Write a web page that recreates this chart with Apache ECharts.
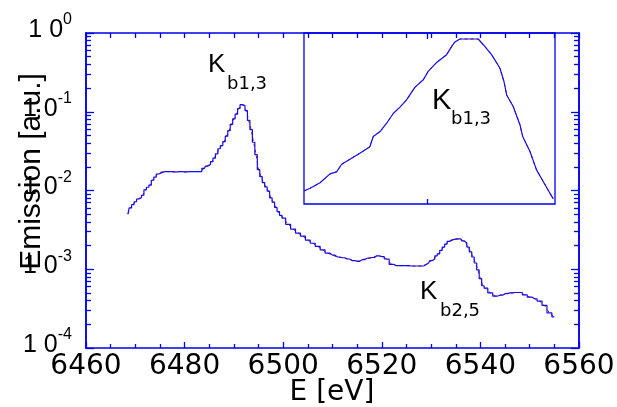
<!DOCTYPE html>
<html><head><meta charset="utf-8">
<script src="https://cdn.jsdelivr.net/npm/echarts@6/dist/echarts.min.js"></script>
<style>html,body{margin:0;padding:0;background:#fff}#c{width:617px;height:407px}</style>
</head><body><div id="c"></div>
<script>
// ---- data ----
const energy = [6468.5,6469,6469.5,6470,6470.5,6471,6471.5,6472,6472.5,6473,6473.5,6474,6474.5,6475,6476,6477,6478,6479,6480,6481,6482,6483,6484,6484.5,6485,6485.5,6486,6486.5,6487,6487.5,6488,6488.5,6489,6489.5,6490,6490.5,6491,6491.5,6492,6492.5,6493,6493.5,6494,6494.5,6495,6495.5,6496,6496.5,6497,6497.5,6498,6498.5,6499,6499.5,6500,6501,6502,6503,6504,6505,6506,6507,6508,6509,6510,6511,6512,6513,6514,6515,6516,6517,6518,6519,6520,6521,6522,6523,6524,6525,6526,6527,6528,6529,6529.5,6530,6530.5,6531,6531.5,6532,6532.5,6533,6533.5,6534,6534.5,6535,6536,6536.5,6537,6537.5,6538,6538.5,6539,6539.5,6540,6540.5,6541,6542,6543,6544,6545,6546,6547,6548,6549,6550,6551,6552,6553,6554,6555];
const emission = [0.0050,0.0060,0.0066,0.0072,0.0078,0.0081,0.0087,0.0102,0.0110,0.0117,0.0135,0.0148,0.0162,0.0170,0.0174,0.0174,0.0172,0.0174,0.0172,0.0174,0.0174,0.0174,0.0191,0.0204,0.0214,0.0232,0.0257,0.0292,0.0339,0.0372,0.0417,0.049,0.0575,0.0692,0.0813,0.0933,0.110,0.123,0.120,0.1035,0.0776,0.0592,0.041,0.0285,0.0184,0.0150,0.0126,0.0111,0.0098,0.00804,0.0071,0.0061,0.0054,0.00484,0.00447,0.00372,0.00324,0.00288,0.00263,0.00234,0.00214,0.00195,0.00176,0.00160,0.00151,0.00143,0.00140,0.00135,0.00129,0.00126,0.00132,0.00138,0.00141,0.00148,0.00145,0.00135,0.00115,0.00111,0.00111,0.00111,0.00110,0.00110,0.00110,0.00115,0.00120,0.00129,0.00135,0.00148,0.00157,0.00174,0.00191,0.00209,0.00226,0.00234,0.00240,0.00243,0.00243,0.00229,0.00216,0.00191,0.00166,0.00143,0.00120,0.00098,0.00076,0.000617,0.000575,0.000501,0.000457,0.000468,0.000490,0.000501,0.000507,0.000507,0.000473,0.000442,0.000422,0.000394,0.000347,0.000279,0.000248];
const insetEnergy = [6484.94,6485.19,6485.60,6486.01,6486.28,6486.49,6486.83,6487.24,6487.65,6487.79,6488.07,6488.34,6488.62,6488.89,6489.16,6489.51,6489.85,6490.05,6490.40,6490.81,6491.02,6491.15,6491.36,6492.11,6492.32,6492.66,6493.00,6493.17,6493.28,6493.55,6493.83,6493.94,6494.24,6494.51,6494.79,6495.06,6495.20];
const insetEmission = [0.0209,0.0216,0.0230,0.0255,0.0261,0.0285,0.0302,0.0324,0.0349,0.0393,0.0416,0.0458,0.0514,0.0552,0.0600,0.0695,0.0757,0.0834,0.0925,0.1012,0.1114,0.1172,0.1213,0.1213,0.1135,0.1012,0.0867,0.0742,0.0635,0.0556,0.0449,0.0393,0.0330,0.0267,0.0233,0.0204,0.0191];
const xTickLabels = [6460,6480,6500,6520,6540,6560];
const yTickExponents = [-4,-3,-2,-1,0];
const insetTick = [6490];
const annotations = [
  {k:'K', sub:'b1,3', kx:208, ky:65, sx:227, sy:84, kSize:26},
  {k:'K', sub:'b1,3', kx:432, ky:101, sx:451, sy:119, kSize:29},
  {k:'K', sub:'b2,5', kx:420, ky:292, sx:440, sy:311, kSize:26}
];

const BLUE = '#0000ee';
const yMajor = yTickExponents.map(e => Math.pow(10, e));
const yMinor = [];
for (let e = -4; e < 0; e++) for (let m = 2; m <= 9; m++) yMinor.push(m * Math.pow(10, e));

const pairs = (xs, ys) => xs.map((x, i) => [x, ys[i]]);
const mainData = pairs(energy, emission);
const insetData = pairs(insetEnergy, insetEmission);

const chart = echarts.init(document.getElementById('c'), null, {renderer: 'canvas'});

const logAxis = (pos, ticks, len, labels) => ({
  type: 'log', gridIndex: 0, min: 1e-4, max: 1, position: pos, z: 10,
  axisLine: {show: true, onZero: false, lineStyle: {color: BLUE, width: 1.5}},
  axisTick: {show: true, inside: true, length: len, customValues: ticks, lineStyle: {color: BLUE, width: 1.3}},
  axisLabel: labels ? {
    show: true, customValues: yMajor, margin: 14, color: '#000',
    formatter: v => '{b|1 0}{s|' + Math.round(Math.log10(v)) + '}',
    rich: {
      b: {fontFamily: 'Liberation Sans', fontSize: 25, color: '#000', padding: [0, 0, 6, 0]},
      s: {fontFamily: 'Liberation Sans', fontSize: 16, color: '#000', padding: [0, 0, 26, 0]}
    }
  } : {show: false},
  splitLine: {show: false}, minorTick: {show: false}
});

const xMain = (pos, labels, len, mlen) => ({
  type: 'value', gridIndex: 0, min: 6460, max: 6560, interval: 20, position: pos, z: 10,
  axisLine: {show: true, onZero: false, lineStyle: {color: BLUE, width: 1.5}},
  axisTick: {show: true, inside: true, length: len, lineStyle: {color: BLUE, width: 1.3}},
  minorTick: {show: true, splitNumber: 4, length: mlen, lineStyle: {color: BLUE, width: 1.3}},
  axisLabel: labels ? {show: true, margin: 5, color: '#000', fontFamily: 'DejaVu Sans', fontSize: 28,
    customValues: xTickLabels, formatter: v => String(v)} : {show: false},
  splitLine: {show: false}, minorSplitLine: {show: false}
});

const graphics = [{
  type: 'text', x: 32, y: 171.5, rotation: Math.PI / 2,
  style: {text: 'Emission [a.u.]', fontFamily: 'Liberation Sans', fontSize: 30, fill: '#000', align: 'center', verticalAlign: 'middle'}
}, {
  type: 'text', x: 332, y: 393,
  style: {text: 'E [eV]', fontFamily: 'DejaVu Sans', fontSize: 28, fill: '#000', align: 'center', verticalAlign: 'middle'}
}];
annotations.forEach(a => {
  graphics.push({type: 'text', x: a.kx, y: a.ky, style: {text: a.k, fontFamily: 'Liberation Sans', fontSize: a.kSize, fill: '#000', align: 'left', verticalAlign: 'middle'}});
  graphics.push({type: 'text', x: a.sx, y: a.sy, style: {text: a.sub, fontFamily: 'DejaVu Sans', fontSize: 18, fill: '#000', align: 'left', verticalAlign: 'middle'}});
});

chart.setOption({
  animation: false,
  backgroundColor: '#fff',
  grid: [
    {left: 86, top: 33, width: 493, height: 315, show: false, outerBoundsMode: 'none', containLabel: false},
    {left: 304, top: 33, width: 251, height: 171, show: true, borderColor: BLUE, borderWidth: 1.3, backgroundColor: 'rgba(0,0,0,0)', outerBoundsMode: 'none', containLabel: false}
  ],
  xAxis: [
    xMain('bottom', true, 6, 4),
    xMain('top', false, 5, 5),
    {type: 'value', gridIndex: 1, min: 6484.94, max: 6495.27, position: 'bottom',
      axisLine: {show: false}, axisTick: {show: true, inside: true, length: 5, customValues: insetTick, lineStyle: {color: BLUE, width: 1.3}},
      axisLabel: {show: false}, splitLine: {show: false}},
    {type: 'value', gridIndex: 1, min: 6484.94, max: 6495.27, position: 'top',
      axisLine: {show: false}, axisTick: {show: true, inside: true, length: 6, customValues: insetTick, lineStyle: {color: BLUE, width: 1.3}},
      axisLabel: {show: false}, splitLine: {show: false}}
  ],
  yAxis: [
    logAxis('left', yMajor, 8, true),
    logAxis('left', yMinor, 5, false),
    logAxis('right', yMajor, 8, false),
    logAxis('right', yMinor, 5, false),
    {type: 'log', gridIndex: 1, min: 0.018, max: 0.13, axisLine: {show: false}, axisTick: {show: false},
      axisLabel: {show: false}, splitLine: {show: false}}
  ],
  graphic: graphics,
  series: [
    {type: 'line', xAxisIndex: 0, yAxisIndex: 0, data: mainData, showSymbol: false, z: 2,
      lineStyle: {color: '#e00000', width: 1, type: [3, 3]}},
    {type: 'line', xAxisIndex: 0, yAxisIndex: 0, data: mainData, showSymbol: false, step: 'middle', z: 3,
      lineStyle: {color: '#1010ee', width: 1.2}},
    {type: 'line', xAxisIndex: 2, yAxisIndex: 4, data: insetData, showSymbol: false, z: 2,
      lineStyle: {color: '#e00000', width: 1, type: [3, 3]}},
    {type: 'line', xAxisIndex: 2, yAxisIndex: 4, data: insetData, showSymbol: false, z: 3,
      lineStyle: {color: '#1010ee', width: 1.2}}
  ]
});
</script></body></html>
